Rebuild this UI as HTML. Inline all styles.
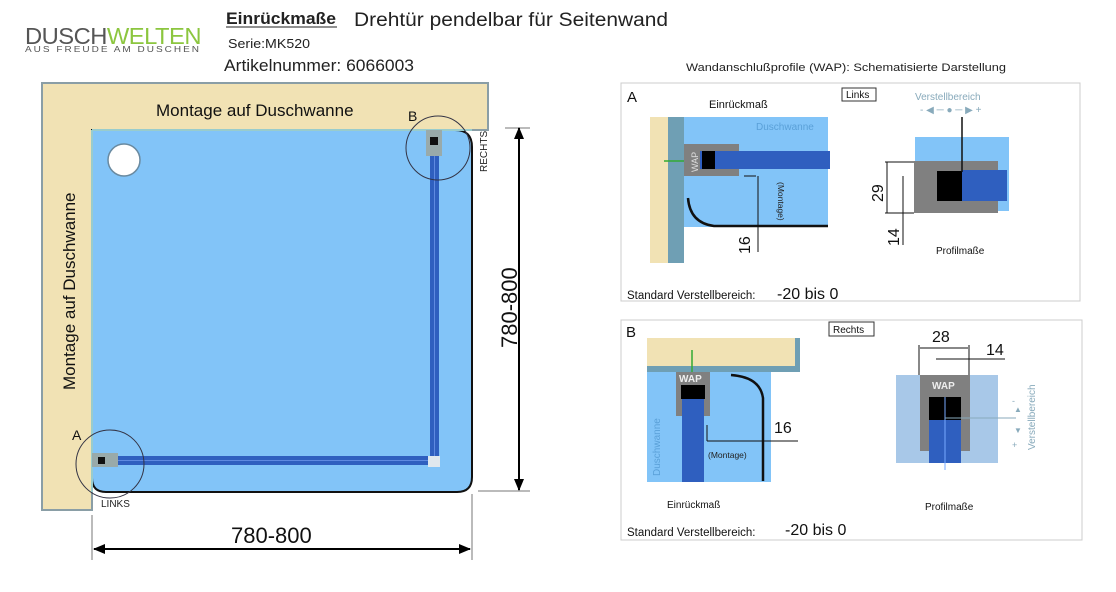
<!DOCTYPE html>
<html><head><meta charset="utf-8"><style>
html,body{margin:0;padding:0;background:#fff;}
svg{display:block;font-family:"Liberation Sans",sans-serif;}
</style></head><body>
<svg width="1116" height="592" viewBox="0 0 1116 592" xmlns="http://www.w3.org/2000/svg">
<defs>
<marker id="ah" markerWidth="12" markerHeight="10" refX="11" refY="5" orient="auto" markerUnits="userSpaceOnUse"><path d="M0,0 L12,5 L0,10 Z" fill="#000"/></marker>
</defs>
<!-- header -->
<text x="25" y="44" font-size="23" fill="#555" letter-spacing="-0.5" textLength="176" lengthAdjust="spacingAndGlyphs">DUSCH<tspan fill="#8cc63f">WELTEN</tspan></text>
<text x="25" y="52" font-size="8" fill="#555" letter-spacing="1.6" textLength="176" lengthAdjust="spacingAndGlyphs">AUS FREUDE AM DUSCHEN</text>
<text x="226" y="24" font-size="17" font-weight="bold" fill="#222" textLength="110" lengthAdjust="spacingAndGlyphs">Einrückmaße</text>
<line x1="226" y1="27" x2="337" y2="27" stroke="#222" stroke-width="1"/>
<text x="354" y="26" font-size="19" fill="#222" textLength="314" lengthAdjust="spacingAndGlyphs">Drehtür pendelbar für Seitenwand</text>
<text x="228" y="48" font-size="12.5" fill="#222" textLength="82" lengthAdjust="spacingAndGlyphs">Serie:MK520</text>
<text x="224" y="71" font-size="16.5" fill="#222" textLength="190" lengthAdjust="spacingAndGlyphs">Artikelnummer: 6066003</text>
<text x="686" y="71" font-size="11" fill="#222" textLength="320" lengthAdjust="spacingAndGlyphs">Wandanschlußprofile (WAP): Schematisierte Darstellung</text>

<!-- main plan -->
<path d="M42,83 H488 V130 H92 V510 H42 Z" fill="#f1e2b4" stroke="#8a9ea6" stroke-width="2"/>
<path d="M92,130 H455 Q472,130 472,147 V477 Q472,492 457,492 H106 Q92,492 92,478 Z" fill="#82c4f8" stroke="#111" stroke-width="2"/>
<line x1="92" y1="130" x2="92" y2="492" stroke="#9cc" stroke-width="2"/>
<line x1="92" y1="130" x2="472" y2="130" stroke="#9cc" stroke-width="2"/>
<circle cx="124" cy="160" r="16" fill="#fff" stroke="#6a8aa0" stroke-width="1.5"/>
<text x="156" y="116" font-size="17" fill="#111">Montage auf Duschwanne</text>
<text transform="translate(75,390) rotate(-90)" font-size="17" fill="#111">Montage auf Duschwanne</text>
<rect x="430" y="140" width="9" height="318" fill="#2f5fbf"/>
<line x1="434.5" y1="140" x2="434.5" y2="458" stroke="#5f8ae0" stroke-width="1"/>
<rect x="98" y="456" width="334" height="9" fill="#2f5fbf"/>
<line x1="98" y1="460.5" x2="432" y2="460.5" stroke="#5f8ae0" stroke-width="1"/>
<rect x="428" y="456" width="12" height="11" fill="#e0e8ee"/>
<rect x="426" y="130" width="16" height="26" fill="#9aa" /><rect x="430" y="137" width="8" height="8" fill="#111"/>
<rect x="92" y="453" width="26" height="14" fill="#9aa"/><rect x="98" y="457" width="7" height="7" fill="#111"/>
<circle cx="438" cy="148" r="32" fill="none" stroke="#334" stroke-width="1"/>
<circle cx="110" cy="464" r="34" fill="none" stroke="#334" stroke-width="1"/>
<text x="408" y="121" font-size="14" fill="#111">B</text>
<text x="72" y="440" font-size="14" fill="#111">A</text>
<text transform="translate(487,172) rotate(-90)" font-size="10" fill="#222">RECHTS</text>
<text x="101" y="507" font-size="10" fill="#222">LINKS</text>
<line x1="505" y1="128" x2="530" y2="128" stroke="#777"/>
<line x1="478" y1="491" x2="530" y2="491" stroke="#777"/>
<line x1="519" y1="142" x2="519" y2="128" stroke="#000" stroke-width="2" marker-end="url(#ah)"/>
<line x1="519" y1="140" x2="519" y2="478" stroke="#000" stroke-width="2"/>
<line x1="519" y1="476" x2="519" y2="490" stroke="#000" stroke-width="2" marker-end="url(#ah)"/>
<text transform="translate(517,348) rotate(-90)" font-size="22" fill="#111">780-800</text>
<line x1="92" y1="515" x2="92" y2="560" stroke="#777"/>
<line x1="472" y1="494" x2="472" y2="560" stroke="#777"/>
<line x1="94" y1="549" x2="470" y2="549" stroke="#000" stroke-width="2" marker-end="url(#ah)"/>
<line x1="470" y1="549" x2="94" y2="549" stroke="#000" stroke-width="2" marker-end="url(#ah)"/>
<text x="231" y="543" font-size="22" fill="#111">780-800</text>

<!-- Panel A -->
<rect x="621" y="83" width="459" height="218" fill="#fff" stroke="#ccc"/>
<text x="627" y="102" font-size="15" fill="#111">A</text>
<text x="709" y="108" font-size="11" fill="#111">Einrückmaß</text>
<rect x="842" y="88" width="34" height="13" fill="#fff" stroke="#333"/>
<text x="846" y="98" font-size="10" fill="#111">Links</text>
<rect x="650" y="117" width="18" height="146" fill="#f1e2b4"/>
<rect x="668" y="117" width="16" height="146" fill="#6f9fb4"/>
<rect x="684" y="117" width="144" height="110" fill="#82c4f8"/>
<text x="756" y="130" font-size="10" fill="#5aa0d8">Duschwanne</text>
<rect x="684" y="144" width="55" height="32" fill="#808080"/>
<rect x="700" y="151" width="130" height="18" fill="#2f5fbf"/>
<rect x="702" y="151" width="13" height="18" fill="#000"/>
<text transform="translate(698,172) rotate(-90)" font-size="9" fill="#ddd">WAP</text>
<line x1="664" y1="161" x2="684" y2="161" stroke="#3a3" stroke-width="1.5"/>
<path d="M688,198 Q690,223 714,226 H828" fill="none" stroke="#111" stroke-width="2.5"/>
<line x1="744" y1="176" x2="756" y2="176" stroke="#111"/>
<line x1="758" y1="176" x2="758" y2="252" stroke="#111"/>
<text transform="translate(778,182) rotate(90)" font-size="8.5" fill="#222">(Montage)</text>
<text transform="translate(750,254) rotate(-90)" font-size="16" fill="#111">16</text>
<text x="915" y="100" font-size="10" fill="#8ab">Verstellbereich</text>
<text x="920" y="113" font-size="10" fill="#8ab">-  ◀ ─ ● ─ ▶  +</text>
<rect x="915" y="137" width="94" height="74" fill="#82c4f8"/>
<rect x="914" y="161" width="84" height="52" fill="#808080"/>
<rect x="937" y="171" width="50" height="30" fill="#000"/>
<rect x="962" y="170" width="45" height="31" fill="#2f5fbf"/>
<line x1="962" y1="117" x2="962" y2="172" stroke="#111" stroke-width="1.5"/>
<line x1="885" y1="162" x2="914" y2="162" stroke="#111"/>
<line x1="885" y1="213" x2="914" y2="213" stroke="#111"/>
<line x1="887" y1="162" x2="887" y2="213" stroke="#111"/>
<line x1="903" y1="176" x2="903" y2="245" stroke="#111"/>
<text transform="translate(883,202) rotate(-90)" font-size="16" fill="#111">29</text>
<text transform="translate(899,246) rotate(-90)" font-size="16" fill="#111">14</text>
<text x="936" y="254" font-size="10" fill="#111">Profilmaße</text>
<text x="627" y="299" font-size="11.5" fill="#111">Standard Verstellbereich:</text>
<text x="777" y="299" font-size="16" fill="#111">-20  bis    0</text>

<!-- Panel B -->
<rect x="621" y="320" width="461" height="220" fill="#fff" stroke="#ccc"/>
<text x="626" y="337" font-size="15" fill="#111">B</text>
<rect x="829" y="322" width="45" height="14" fill="#fff" stroke="#333"/>
<text x="833" y="333" font-size="10" fill="#111">Rechts</text>
<rect x="647" y="338" width="152" height="33" fill="#f1e2b4"/>
<rect x="647" y="366" width="152" height="6" fill="#6f9fb4"/>
<rect x="795" y="338" width="5" height="34" fill="#6f9fb4"/>
<rect x="647" y="372" width="124" height="110" fill="#82c4f8"/>
<rect x="676" y="372" width="34" height="44" fill="#808080"/>
<rect x="682" y="386" width="22" height="96" fill="#2f5fbf"/>
<rect x="681" y="385" width="24" height="14" fill="#000"/>
<text x="679" y="382" font-size="10" fill="#eee" font-weight="bold">WAP</text>
<line x1="692" y1="350" x2="692" y2="372" stroke="#3a3" stroke-width="1.5"/>
<path d="M731,375 Q760,377 763,398 V481" fill="none" stroke="#111" stroke-width="2.5"/>
<text transform="translate(660,476) rotate(-90)" font-size="10" fill="#5aa0d8">Duschwanne</text>
<line x1="707" y1="425" x2="707" y2="441" stroke="#111"/>
<line x1="707" y1="441" x2="798" y2="441" stroke="#111"/>
<text x="708" y="458" font-size="8.5" fill="#222">(Montage)</text>
<text x="774" y="433" font-size="16" fill="#111">16</text>
<text x="667" y="508" font-size="10" fill="#111">Einrückmaß</text>
<rect x="896" y="375" width="102" height="88" fill="#a8c8e8"/>
<rect x="920" y="375" width="50" height="76" fill="#808080"/>
<rect x="929" y="397" width="32" height="66" fill="#2f5fbf"/>
<rect x="929" y="397" width="32" height="23" fill="#000"/>
<line x1="945" y1="397" x2="945" y2="470" stroke="#7af" stroke-width="1"/>
<text x="932" y="389" font-size="10" fill="#eee" font-weight="bold">WAP</text>
<line x1="919" y1="345" x2="919" y2="375" stroke="#111"/>
<line x1="969" y1="345" x2="969" y2="375" stroke="#111"/>
<line x1="920" y1="348" x2="968" y2="348" stroke="#111"/>
<line x1="936" y1="359" x2="1005" y2="359" stroke="#111"/>
<text x="932" y="342" font-size="16" fill="#111">28</text>
<text x="986" y="355" font-size="16" fill="#111">14</text>
<line x1="945" y1="418" x2="1016" y2="418" stroke="#8ab"/>
<text x="1012" y="404" font-size="9" fill="#8ab">-</text>
<text x="1014" y="412" font-size="8" fill="#8ab">▲</text>
<text x="1014" y="433" font-size="8" fill="#8ab">▼</text>
<text x="1012" y="448" font-size="9" fill="#8ab">+</text>
<text transform="translate(1035,450) rotate(-90)" font-size="10" fill="#8ab">Verstellbereich</text>
<text x="925" y="510" font-size="10" fill="#111">Profilmaße</text>
<text x="627" y="536" font-size="11.5" fill="#111">Standard Verstellbereich:</text>
<text x="785" y="535" font-size="16" fill="#111">-20  bis  0</text>
</svg>
</body></html>
